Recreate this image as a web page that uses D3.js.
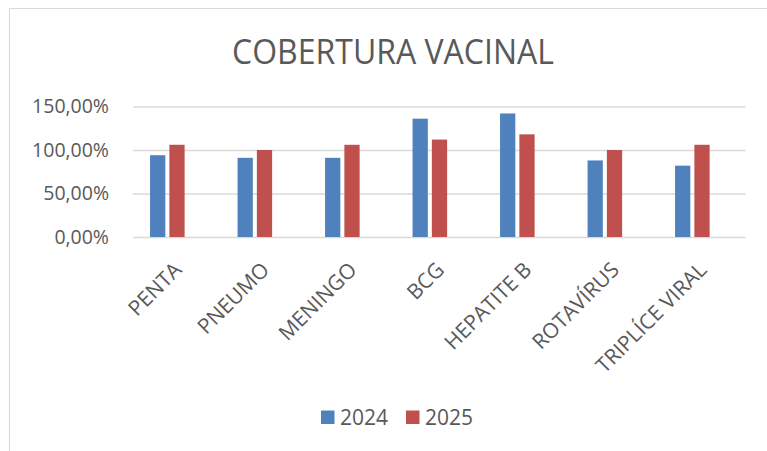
<!DOCTYPE html>
<html>
<head>
<meta charset="utf-8">
<script src="https://cdn.jsdelivr.net/npm/d3@7"></script>
<style>
    body { margin: 0; background: #fff; }
    svg { display: block; }
    text { font-family: "Open Sans", sans-serif; fill: #595959; }
</style>
</head>
<body>
<div id="chart"></div>
<script>
// Chart data
const categories = ["PENTA", "PNEUMO", "MENINGO", "BCG", "HEPATITE B", "ROTAVÍRUS", "TRIPLÍCE VIRAL"];
const seriesNames = ["2024", "2025"];
const values2024 = [0.94, 0.91, 0.91, 1.36, 1.42, 0.88, 0.82];
const values2025 = [1.06, 1.00, 1.06, 1.12, 1.18, 1.00, 1.06];
const yTicks = [0, 0.5, 1.0, 1.5];
const title = "COBERTURA VACINAL";

const colors = { "2024": "#4F81BD", "2025": "#C0504D" };

const width = 767, height = 451;
const plot = { left: 133, right: 745.5, top: 106.5, bottom: 237 };

const svg = d3.select("#chart").append("svg")
    .attr("width", width)
    .attr("height", height);

// Chart frame (Excel style border)
svg.append("rect")
    .attr("x", 9.5).attr("y", 8.5)
    .attr("width", 800).attr("height", 500)
    .attr("fill", "#fff")
    .attr("stroke", "#d9d9d9")
    .attr("stroke-width", 1);

// Title
svg.append("text")
    .attr("x", 393)
    .attr("y", 64)
    .attr("text-anchor", "middle")
    .attr("font-size", "35px")
    .attr("textLength", 322)
    .attr("lengthAdjust", "spacingAndGlyphs")
    .text(title);

// Scales
const x0 = d3.scaleBand()
    .domain(categories)
    .range([plot.left, plot.right])
    .padding(0);

const bw = x0.bandwidth();
// bars sit on the left part of each category slot, as in the original sheet
const x1 = d3.scaleBand()
    .domain(seriesNames)
    .range([bw * 0.195, bw * 0.59])
    .paddingInner(0.21)
    .paddingOuter(0);

const y = d3.scaleLinear()
    .domain([0, 1.5])
    .range([plot.bottom, plot.top]);

const ptBR = d3.formatLocale({ decimal: ",", thousands: ".", grouping: [3], currency: ["R$", ""] });
const pct = ptBR.format(".2%");

// Gridlines + y labels
const yAxis = d3.axisLeft(y)
    .tickValues(yTicks)
    .tickSize(-(plot.right - plot.left))
    .tickPadding(24)
    .tickFormat(pct);

const gy = svg.append("g")
    .attr("transform", `translate(${plot.left},0)`)
    .call(yAxis);

gy.select(".domain").remove();
gy.selectAll(".tick line")
    .attr("stroke", "#d9d9d9")
    .attr("stroke-width", 1.4);
gy.selectAll(".tick text")
    .attr("font-size", "19.5px")
    .attr("fill", "#595959")
    .attr("font-family", "'Open Sans', sans-serif");

// Bars
const rows = categories.map((c, i) => ({ category: c, "2024": values2024[i], "2025": values2025[i] }));

const groups = svg.append("g")
    .selectAll("g")
    .data(rows)
    .enter()
    .append("g")
    .attr("transform", d => `translate(${x0(d.category)},0)`);

groups.selectAll("rect")
    .data(d => seriesNames.map(k => ({ key: k, value: d[k] })))
    .enter()
    .append("rect")
    .attr("x", d => x1(d.key))
    .attr("width", x1.bandwidth())
    .attr("y", d => y(d.value))
    .attr("height", d => y(0) - y(d.value))
    .attr("fill", d => colors[d.key]);

// Category labels, rotated
const xAxis = d3.axisBottom(x0).tickSize(0).tickPadding(0);
const gx = svg.append("g")
    .attr("transform", `translate(0,${plot.bottom})`)
    .call(xAxis);

gx.select(".domain").remove();
gx.selectAll(".tick text")
    .attr("font-size", "21px")
    .attr("fill", "#595959")
    .attr("font-family", "'Open Sans', sans-serif")
    .attr("text-anchor", "end")
    .attr("y", 0)
    .attr("dy", "0.35em")
    .attr("transform", "translate(1,29) rotate(-45)");

// Legend
const legend = svg.append("g")
    .attr("transform", "translate(321,410.5)");

const legendItems = legend.selectAll("g")
    .data(seriesNames)
    .enter()
    .append("g")
    .attr("transform", (d, i) => `translate(${i * 85},0)`);

legendItems.append("rect")
    .attr("width", 13.5)
    .attr("height", 13.5)
    .attr("fill", d => colors[d]);

legendItems.append("text")
    .attr("x", 19)
    .attr("y", 14)
    .attr("font-size", "21px")
    .text(d => d);
</script>
</body>
</html>
